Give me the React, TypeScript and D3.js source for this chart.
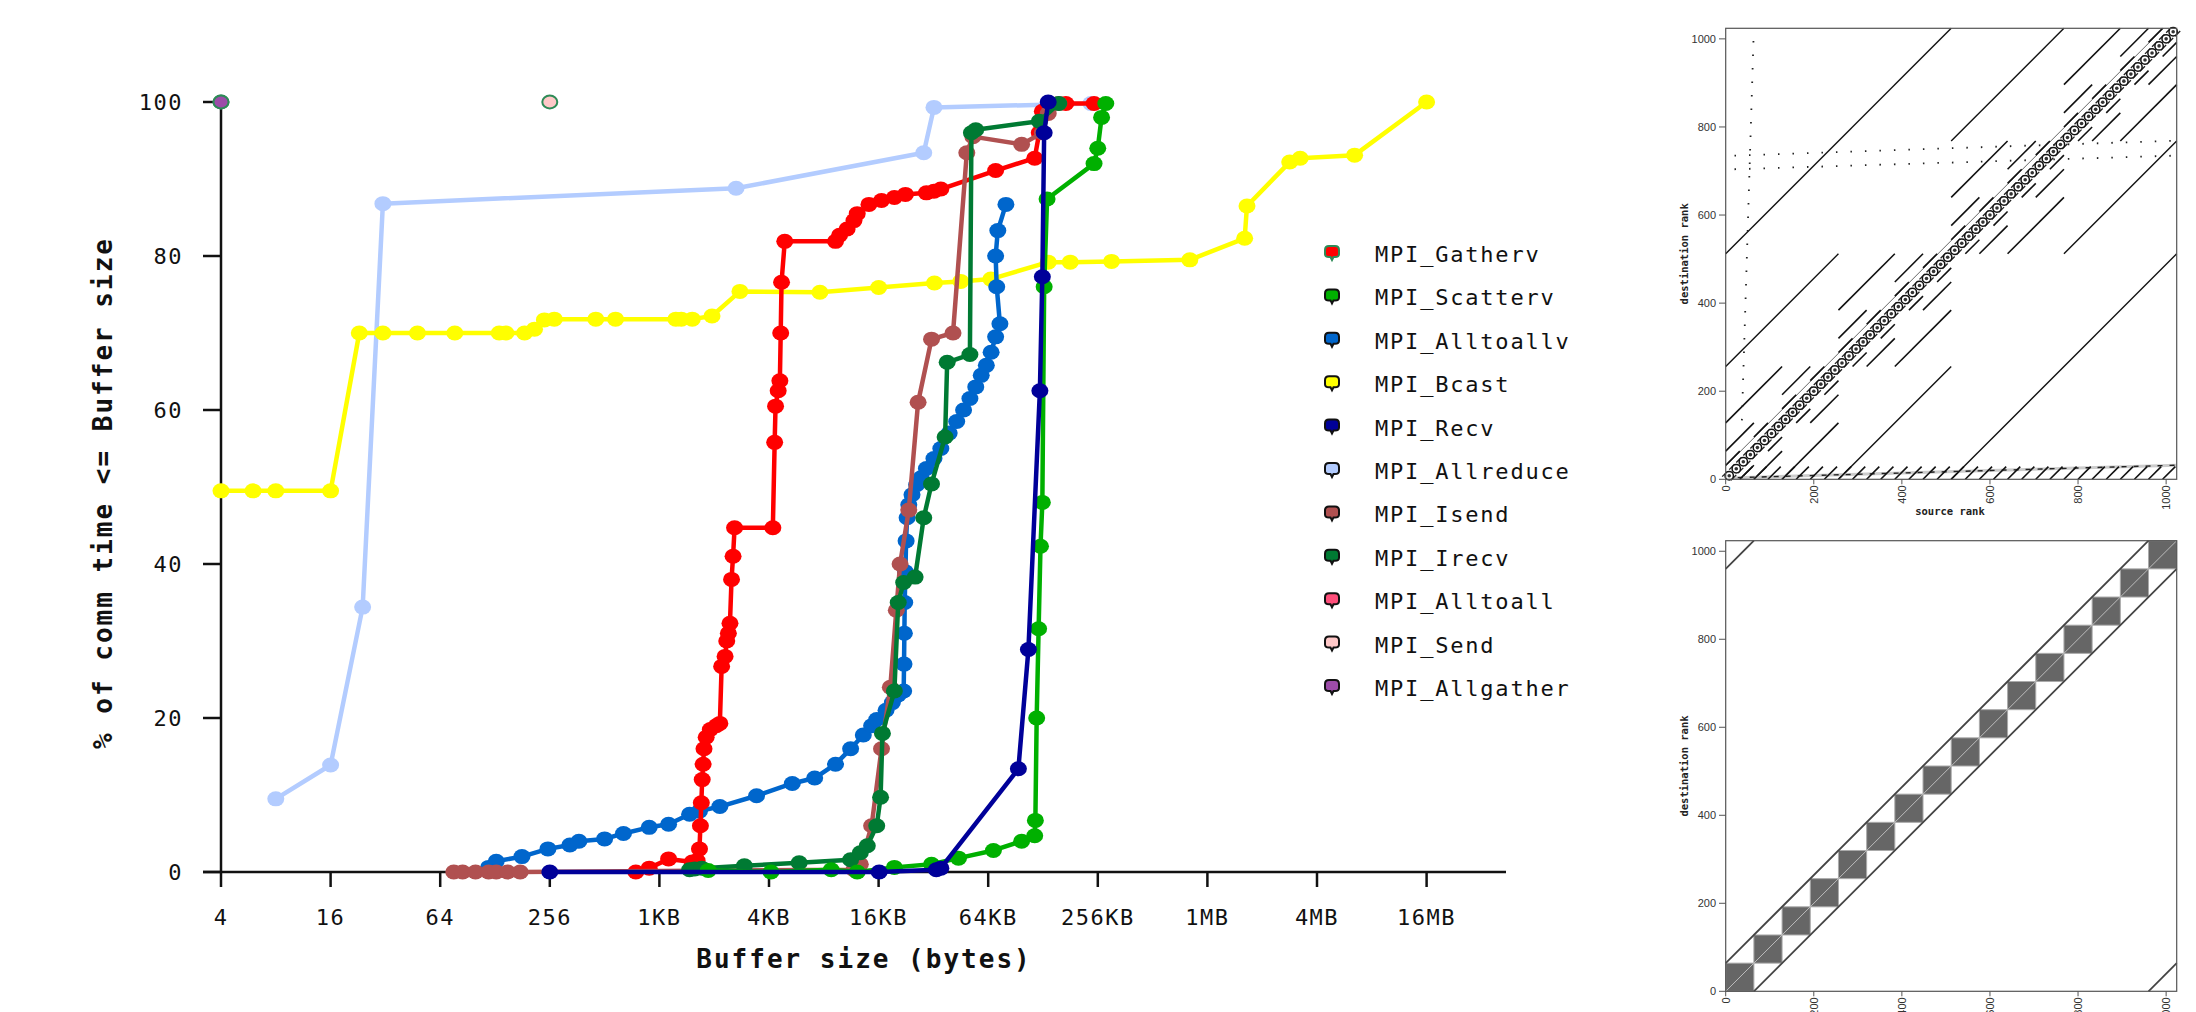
import React from 'react';
import * as d3 from 'd3';

const W = 2196;
const H = 1012;

// ---------- main chart data ----------
const xTickValues = [4, 16, 64, 256, 1024, 4096, 16384, 65536, 262144, 1048576, 4194304, 16777216];
const xTickLabels = ['4', '16', '64', '256', '1KB', '4KB', '16KB', '64KB', '256KB', '1MB', '4MB', '16MB'];
const yTickValues = [0, 20, 40, 60, 80, 100];

const legendNames = ['MPI_Gatherv', 'MPI_Scatterv', 'MPI_Alltoallv', 'MPI_Bcast', 'MPI_Recv', 'MPI_Allreduce', 'MPI_Isend', 'MPI_Irecv', 'MPI_Alltoall', 'MPI_Send', 'MPI_Allgather'];
const legendColors = ['#ff0000', '#00b000', '#0066cc', '#ffff00', '#000099', '#b3ccff', '#b05050', '#007a33', '#ff4f7b', '#ffc8c8', '#9c4ca8'];
const legendStrokes = ['#2e8b57', '#111', '#111', '#111', '#111', '#111', '#111', '#111', '#111', '#111', '#111'];

type P = [number, number];

const gathervData: P[] = [[760, 0], [900, 0.5], [1150, 1.7], [1550, 1.3], [1650, 1.5], [1700, 3], [1720, 6], [1740, 9], [1760, 12], [1780, 14], [1800, 16], [1850, 17.5], [1950, 18.5], [2100, 19], [2200, 19.3], [2250, 26.7], [2350, 28], [2400, 30], [2450, 31], [2500, 32.3], [2550, 38], [2600, 41], [2650, 44.7], [4300, 44.7], [4400, 55.8], [4450, 60.5], [4600, 62.5], [4700, 63.8], [4750, 70], [4800, 76.6], [5000, 81.9], [9500, 81.9], [10000, 82.7], [11000, 83.5], [12000, 84.6], [12500, 85.5], [14500, 86.7], [17000, 87.2], [20000, 87.6], [23000, 88], [30000, 88.2], [33000, 88.4], [36000, 88.7], [72000, 91.1], [118000, 92.7], [125000, 96], [130000, 98.8], [175000, 99.8], [250000, 99.8]];
const scattervData: P[] = [[1900, 0.2], [4200, 0], [9000, 0.3], [12500, 0], [20000, 0.6], [32000, 1.0], [45000, 1.8], [70000, 2.8], [100000, 4], [118000, 4.7], [119000, 6.7], [121000, 20], [124000, 31.6], [127000, 42.3], [130000, 48], [133000, 76], [138000, 87.4], [250000, 92], [262000, 94], [275000, 98], [290000, 99.8]];
const alltoallvData: P[] = [[118, 0.6], [130, 1.4], [180, 2], [250, 3], [330, 3.5], [370, 4], [512, 4.3], [650, 5], [900, 5.8], [1150, 6.2], [1500, 7.5], [1700, 7.9], [2200, 8.5], [3500, 9.9], [5500, 11.5], [7300, 12.2], [9500, 14], [11500, 16], [13500, 17.8], [15000, 19], [16000, 19.8], [18000, 21], [19500, 22], [21000, 23], [22500, 23.5], [22600, 27], [22700, 31], [22800, 35], [23000, 39], [23200, 43], [23500, 46], [24000, 47.7], [25000, 49], [26500, 50.3], [28000, 51.2], [30000, 52.4], [33000, 53.7], [36000, 55], [40000, 57], [44000, 58.5], [48000, 60], [52000, 61.5], [56000, 63], [60000, 64.5], [64000, 65.8], [68000, 67.5], [72000, 69.5], [76000, 71.2], [73000, 76], [72000, 80], [74000, 83.3], [82000, 86.7]];
const bcastData: P[] = [[4, 49.5], [6, 49.5], [8, 49.5], [16, 49.5], [23, 70], [31, 70], [48, 70], [77, 70], [135, 70], [147, 70], [186, 70], [211, 70.5], [239, 71.7], [271, 71.8], [458, 71.8], [588, 71.8], [1261, 71.8], [1351, 71.8], [1552, 71.8], [1992, 72.2], [2836, 75.4], [7800, 75.3], [16400, 75.9], [33200, 76.5], [46300, 76.7], [67800, 77], [140000, 79.2], [185000, 79.2], [312000, 79.3], [840000, 79.5], [1680000, 82.3], [1730000, 86.5], [2970000, 92.2], [3390000, 92.7], [6750000, 93.1], [16777216, 100]];
const recvData: P[] = [[256, 0], [16500, 0], [34000, 0.3], [36000, 0.5], [96000, 13.4], [109000, 28.9], [126000, 62.5], [130000, 77.3], [133000, 96], [140000, 100]];
const allreduceData: P[] = [[8, 9.5], [16, 13.9], [24, 34.4], [31, 86.8], [2700, 88.8], [29000, 93.4], [33000, 99.3], [240000, 99.8]];
const isendData: P[] = [[76, 0], [85, 0], [100, 0], [118, 0], [130, 0], [150, 0], [176, 0], [12000, 0.3], [13000, 1], [15000, 6], [17000, 16], [19000, 24], [20500, 34], [21500, 40], [24000, 47], [27000, 61], [32000, 69.2], [42000, 70], [50000, 93.4], [54000, 95.5], [100000, 94.5], [130000, 96], [140000, 98.5], [160000, 99.8]];
const irecvData: P[] = [[1500, 0.3], [1600, 0.4], [1750, 0.5], [3000, 0.8], [6000, 1.2], [11500, 1.6], [13000, 2.5], [14200, 3.4], [16000, 6], [16800, 9.7], [17200, 18], [20000, 23.5], [21000, 35], [22500, 37.6], [26000, 38.3], [29000, 46], [32000, 50.4], [38000, 56.5], [39000, 66.2], [52000, 67.2], [53000, 96], [56000, 96.4], [125000, 97.5], [160000, 99.8]];
const alltoallData: P[] = [[4, 100]];
const sendData: P[] = [[256, 100]];
const allgatherData: P[] = [[4, 100]];

// draw order (back to front)
const drawOrder = ['MPI_Allreduce', 'MPI_Bcast', 'MPI_Alltoallv', 'MPI_Gatherv', 'MPI_Isend', 'MPI_Irecv', 'MPI_Scatterv', 'MPI_Recv', 'MPI_Alltoall', 'MPI_Send', 'MPI_Allgather'];
const dataByName: Record<string, P[]> = {
  MPI_Gatherv: gathervData, MPI_Scatterv: scattervData, MPI_Alltoallv: alltoallvData, MPI_Bcast: bcastData,
  MPI_Recv: recvData, MPI_Allreduce: allreduceData, MPI_Isend: isendData, MPI_Irecv: irecvData,
  MPI_Alltoall: alltoallData, MPI_Send: sendData, MPI_Allgather: allgatherData,
};

// ---------- matrix panels data ----------
const rankTicks = [0, 200, 400, 600, 800, 1000];
const butterflyStrides = [32, 64, 128, 256, 512];
const diagGlyphSpacing = 16;
const hatchStride = 32;
const sparseRows: [number, number, number, number][] = [[20, 735, 1024, 769], [20, 704, 1024, 735]];
const sparseCols: [number, number, number, number][] = [[63, 995, 36, 110]];
const ringBlock = 64;
const ringLines: [number, number, number, number][] = [[0, 64, 960, 1024], [64, 0, 1024, 960], [0, 960, 64, 1024], [960, 0, 1024, 64]];

const MONO = '"DejaVu Sans Mono", "Liberation Mono", monospace';

function MainChart() {
  const x = d3.scaleLog().base(2).domain([4, 16777216]).range([221, 1426.6]);
  const y = d3.scaleLinear().domain([0, 100]).range([872, 102]);
  const line = d3.line<P>().x((d) => x(d[0])).y((d) => y(d[1]));
  const axisColor = '#111';
  return (
    <g>
      {/* axes */}
      <line x1={203} x2={1506} y1={y(0)} y2={y(0)} stroke={axisColor} strokeWidth={2.5} />
      <line x1={221} x2={221} y1={y(0)} y2={y(100)} stroke={axisColor} strokeWidth={2.5} />
      {yTickValues.map((v) => (
        <g key={'yt' + v}>
          <line x1={203} x2={221} y1={y(v)} y2={y(v)} stroke={axisColor} strokeWidth={2.5} />
          <text x={183} y={y(v) + 8} textAnchor="end" fontFamily={MONO} fontSize={22} letterSpacing={1.5} fill="#111">{v}</text>
        </g>
      ))}
      {xTickValues.map((v, i) => (
        <g key={'xt' + v}>
          <line x1={x(v)} x2={x(v)} y1={y(0)} y2={y(0) + 15} stroke={axisColor} strokeWidth={2.5} />
          <text x={x(v)} y={925} textAnchor="middle" fontFamily={MONO} fontSize={22} letterSpacing={1.5} fill="#111">{xTickLabels[i]}</text>
        </g>
      ))}
      <text x={864} y={968} textAnchor="middle" fontFamily={MONO} fontWeight="bold" fontSize={26} letterSpacing={2} fill="#111">Buffer size (bytes)</text>
      <text transform="translate(112,493) rotate(-90)" textAnchor="middle" fontFamily={MONO} fontWeight="bold" fontSize={26} letterSpacing={2} fill="#111">% of comm time &lt;= Buffer size</text>

      {/* series */}
      {drawOrder.map((name) => {
        const i = legendNames.indexOf(name);
        const data = dataByName[name];
        const color = legendColors[i];
        const single = data.length === 1;
        return (
          <g key={name}>
            {!single && <path d={line(data) || ''} fill="none" stroke={color} strokeWidth={4.5} strokeLinejoin="round" />}
            {data.map((d, j) => (
              <ellipse key={j} cx={x(d[0])} cy={y(d[1])} rx={single ? 7.5 : 8.5} ry={single ? 6.5 : 7.5}
                fill={color} stroke={single ? '#2e8b57' : 'none'} strokeWidth={single ? 2 : 0} />
            ))}
          </g>
        );
      })}

      {/* legend */}
      {legendNames.map((name, i) => {
        const cy = 253 + i * 43.4;
        return (
          <g key={'lg' + name} transform={`translate(1332,${cy})`}>
            <path d="M -7 -3 Q -7 -7 -3 -7 L 3 -7 Q 7 -7 7 -3 L 7 1 Q 7 4 3 4 L 1.5 4 L 0 7 L -1.5 4 L -3 4 Q -7 4 -7 1 Z"
              fill={legendColors[i]} stroke={legendStrokes[i]} strokeWidth={2} />
            <text x={43} y={9} fontFamily={MONO} fontSize={22} letterSpacing={1.8} fill="#111">{name}</text>
          </g>
        );
      })}
    </g>
  );
}

function RankFrame({ yScale, top, bottom, children, showXTitle }: any) {
  const sx = d3.scaleLinear().domain([0, 1024]).range([1725.7, 2176.7]);
  return (
    <g>
      {children(sx)}
      <rect x={1725.7} y={top} width={451} height={bottom - top} fill="none" stroke="#555" strokeWidth={1.2} />
      {rankTicks.map((v) => (
        <g key={'ry' + v}>
          <line x1={1719} x2={1725.7} y1={yScale(v)} y2={yScale(v)} stroke="#555" strokeWidth={1} />
          <text x={1716} y={yScale(v) + 4} textAnchor="end" fontFamily='"Liberation Sans", Arial, sans-serif' fontSize={11} fill="#333">{v}</text>
        </g>
      ))}
      {rankTicks.map((v) => (
        <g key={'rx' + v}>
          <line x1={sx(v)} x2={sx(v)} y1={bottom} y2={bottom + 5} stroke="#555" strokeWidth={1} />
          <text transform={`translate(${sx(v) + 4},${bottom + 6}) rotate(-90)`} textAnchor="end" fontFamily='"Liberation Sans", Arial, sans-serif' fontSize={11} fill="#333">{v}</text>
        </g>
      ))}
      <text transform={`translate(1688,${(top + bottom) / 2}) rotate(-90)`} textAnchor="middle" fontFamily={MONO} fontWeight="bold" fontSize={10.5} fill="#222">destination rank</text>
      {showXTitle && <text x={1950} y={515} textAnchor="middle" fontFamily={MONO} fontWeight="bold" fontSize={10.5} fill="#222">source rank</text>}
    </g>
  );
}

function TopMatrix() {
  const sy = d3.scaleLinear().domain([0, 1024]).range([479.3, 28.3]);
  return (
    <RankFrame yScale={sy} top={28.3} bottom={479.3} showXTitle>
      {(sx: any) => {
        const segs: JSX.Element[] = [];
        butterflyStrides.forEach((s) => {
          for (let b = 0; b < 1024 / s; b++) {
            const off = b % 2 === 0 ? s : -s;
            const x0 = b * s;
            const x1 = x0 + s;
            segs.push(<line key={`bf${s}-${b}`} x1={sx(x0)} y1={sy(x0 + off)} x2={sx(x1)} y2={sy(x1 + off)} stroke="#111" strokeWidth={s >= 256 ? 1.4 : 1.6} />);
          }
        });
        const glyphs: JSX.Element[] = [];
        for (let c = diagGlyphSpacing / 2; c < 1024; c += diagGlyphSpacing) {
          glyphs.push(
            <g key={'g' + c}>
              <line x1={sx(c - 16)} y1={sy(c - 2)} x2={sx(c - 4)} y2={sy(c + 10)} stroke="#222" strokeWidth={1.3} />
              <line x1={sx(c + 4)} y1={sy(c - 10)} x2={sx(c + 16)} y2={sy(c + 2)} stroke="#222" strokeWidth={1.3} />
              <circle cx={sx(c)} cy={sy(c)} r={4.2} fill="#fff" stroke="#111" strokeWidth={1.5} />
              <circle cx={sx(c)} cy={sy(c)} r={1.8} fill="#333" />
            </g>
          );
        }
        const hatch: JSX.Element[] = [];
        for (let h = hatchStride; h < 1024; h += hatchStride) {
          hatch.push(<line key={'h' + h} x1={sx(h)} y1={sy(0)} x2={sx(h + hatchStride * 0.9)} y2={sy(hatchStride * 0.9)} stroke="#111" strokeWidth={1.6} />);
        }
        return (
          <g>
            <line x1={sx(0)} y1={sy(30)} x2={sx(994)} y2={sy(1024)} stroke="#666" strokeWidth={1} />
            <line x1={sx(0)} y1={sy(0)} x2={sx(1024)} y2={sy(1024)} stroke="#444" strokeWidth={1} />
            {segs}
            <line x1={sx(0)} y1={sy(3)} x2={sx(1024)} y2={sy(32)} stroke="#ccc" strokeWidth={3} />
            <line x1={sx(0)} y1={sy(3)} x2={sx(1024)} y2={sy(32)} stroke="#222" strokeWidth={1.4} strokeDasharray="5 7" />
            {hatch}
            {sparseRows.map((r, i) => (
              <line key={'sr' + i} x1={sx(r[0])} y1={sy(r[1])} x2={sx(r[2])} y2={sy(r[3])} stroke="#222" strokeWidth={1.8} strokeDasharray="1.5 13" />
            ))}
            {sparseCols.map((r, i) => (
              <line key={'sc' + i} x1={sx(r[0])} y1={sy(r[1])} x2={sx(r[2])} y2={sy(r[3])} stroke="#222" strokeWidth={1.8} strokeDasharray="1.5 12" />
            ))}
            {glyphs}
          </g>
        );
      }}
    </RankFrame>
  );
}

function BottomMatrix() {
  const sy = d3.scaleLinear().domain([0, 1024]).range([991.3, 540.7]);
  return (
    <RankFrame yScale={sy} top={540.7} bottom={991.3} showXTitle={false}>
      {(sx: any) => {
        const blocks: JSX.Element[] = [];
        for (let b = 0; b < 1024; b += ringBlock) {
          blocks.push(
            <rect key={'b' + b} x={sx(b)} y={sy(b + ringBlock)} width={sx(b + ringBlock) - sx(b)} height={sy(b) - sy(b + ringBlock)}
              fill="#666" stroke="#aaa" strokeWidth={1} />
          );
        }
        return (
          <g>
            {blocks}
            <line x1={sx(0)} y1={sy(0)} x2={sx(1024)} y2={sy(1024)} stroke="#bbb" strokeWidth={1} />
            {ringLines.map((r, i) => (
              <line key={'rl' + i} x1={sx(r[0])} y1={sy(r[1])} x2={sx(r[2])} y2={sy(r[3])} stroke="#444" strokeWidth={1.8} />
            ))}
          </g>
        );
      }}
    </RankFrame>
  );
}

export default function App() {
  return (
    <svg width={W} height={H} viewBox={`0 0 ${W} ${H}`} style={{ position: 'absolute', left: 0, top: 0, display: 'block', background: '#fff' }}>
      <rect width={W} height={H} fill="#fff" />
      <MainChart />
      <TopMatrix />
      <BottomMatrix />
    </svg>
  );
}
